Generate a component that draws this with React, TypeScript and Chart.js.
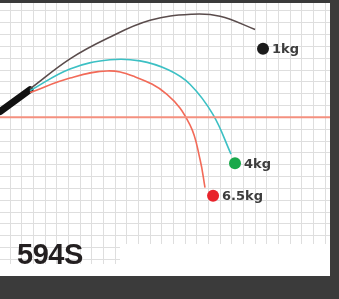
import React, { useEffect, useRef } from "react";
import { Chart, registerables } from "chart.js";

Chart.register(...registerables);

// Units: one grid cell. x = horizontal distance, y = height above the baseline.
const rodX = [-0.86, 1.71];
const rodY = [0.49, 2.33];

const curve1kgX = [1.71, 5.14, 8.31, 12.0, 15.6, 17.99, 21.0];
const curve1kgY = [2.4, 4.94, 6.66, 8.2, 8.71, 8.54, 7.43];

const curve4kgX = [1.71, 5.14, 8.57, 11.14, 13.6, 15.42, 17.4, 18.94];
const curve4kgY = [2.25, 4.09, 4.86, 4.77, 4.0, 2.8, 0.23, -3.11];

const curve65kgX = [1.71, 5.14, 8.31, 10.54, 13.45, 15.42, 16.28, 16.71];
const curve65kgY = [2.1, 3.32, 3.92, 3.49, 1.95, -0.63, -3.54, -5.94];

const baselineX = [-0.86, 27.42];
const baselineY = [0, 0];

const markerLabels = ["1kg", "4kg", "6.5kg"];
const markerX = [21.68, 19.28, 17.4];
const markerY = [5.8, -3.88, -6.62];
const markerColors = ["#1b1b1b", "#19a84a", "#e8232b"];

const modelName = "594S";

const pts = (xs: number[], ys: number[]) => xs.map((x, i) => ({ x, y: ys[i] }));

export default function App() {
  const ref = useRef<HTMLCanvasElement | null>(null);

  useEffect(() => {
    document.body.style.margin = "0";
    const canvas = ref.current;
    if (!canvas) return;

    const labelPlugin = {
      id: "markerLabels",
      afterDatasetsDraw(chart: any) {
        const ctx = chart.ctx;
        const xs = chart.scales.x;
        const ys = chart.scales.y;
        ctx.save();
        ctx.font = "bold 13px 'DejaVu Sans'";
        ctx.fillStyle = "#3d3d3d";
        ctx.textBaseline = "middle";
        markerLabels.forEach((t, i) => {
          ctx.fillText(t, xs.getPixelForValue(markerX[i]) + 9, ys.getPixelForValue(markerY[i]) + 1);
        });
        ctx.restore();
      },
    };

    const bgPlugin = {
      id: "bg",
      beforeDraw(chart: any) {
        const ctx = chart.ctx;
        ctx.save();
        ctx.fillStyle = "#ffffff";
        ctx.fillRect(0, 0, chart.width, chart.height);
        ctx.restore();
      },
      beforeDatasetsDraw(chart: any) {
        // plain white strip at the bottom of the panel (no grid there)
        const ctx = chart.ctx;
        ctx.save();
        ctx.fillStyle = "#ffffff";
        ctx.fillRect(120, 241, chart.width - 120, chart.height - 241);
        ctx.fillRect(0, 261, 120, chart.height - 261);
        ctx.restore();
      },
    };

    const hideAxis = (scale: any) => {
      if (scale.isHorizontal()) scale.height = 0;
      else scale.width = 0;
    };

    const curve = (xs: number[], ys: number[], color: string) => ({
      data: pts(xs, ys),
      showLine: true,
      borderColor: color,
      borderWidth: 1.6,
      pointRadius: 0,
      tension: 0.4,
    });

    const chart = new Chart(canvas, {
      type: "scatter",
      data: {
        datasets: [
          {
            data: pts(baselineX, baselineY),
            showLine: true,
            borderColor: "#f4907f",
            borderWidth: 2,
            pointRadius: 0,
          },
          curve(curve65kgX, curve65kgY, "#f26a58"),
          curve(curve4kgX, curve4kgY, "#3cc0c4"),
          curve(curve1kgX, curve1kgY, "#5a4c4c"),
          {
            data: pts(rodX, rodY),
            showLine: true,
            borderColor: "#111111",
            borderWidth: 7,
            borderCapStyle: "round",
            pointRadius: 0,
          },
          {
            data: pts(markerX, markerY),
            showLine: false,
            pointRadius: 6,
            pointBackgroundColor: markerColors,
            pointBorderColor: markerColors,
            pointBorderWidth: 0,
          },
        ],
      },
      options: {
        animation: false,
        responsive: false,
        maintainAspectRatio: false,
        events: [],
        layout: { padding: 0, autoPadding: false },
        plugins: { legend: { display: false }, tooltip: { enabled: false } },
        scales: {
          x: {
            type: "linear",
            min: -0.857,
            max: 27.42,
            afterFit: hideAxis,
            ticks: { display: false, stepSize: 1, includeBounds: false },
            grid: { color: "#dedede", lineWidth: 1, drawTicks: false },
            border: { display: false },
          },
          y: {
            type: "linear",
            min: -13.4,
            max: 9.66,
            afterFit: hideAxis,
            ticks: { display: false, stepSize: 1, includeBounds: false },
            grid: { color: "#dedede", lineWidth: 1, drawTicks: false },
            border: { display: false },
          },
        },
      },
      plugins: [bgPlugin, labelPlugin],
    } as any);

    return () => chart.destroy();
  }, []);

  return (
    <div
      style={{
        position: "relative",
        width: 339,
        height: 299,
        background: "#3b3b3b",
        overflow: "hidden",
      }}
    >
      <canvas
        ref={ref}
        width={330}
        height={273}
        style={{ position: "absolute", left: 0, top: 3, width: 330, height: 273 }}
      />
      <div
        style={{
          position: "absolute",
          left: 17,
          top: 236,
          fontFamily: "'Liberation Sans', Arial, sans-serif",
          fontWeight: "bold",
          fontSize: 29,
          color: "#231f20",
          lineHeight: "36px",
          letterSpacing: "-0.5px",
        }}
      >
        {modelName}
      </div>
    </div>
  );
}
